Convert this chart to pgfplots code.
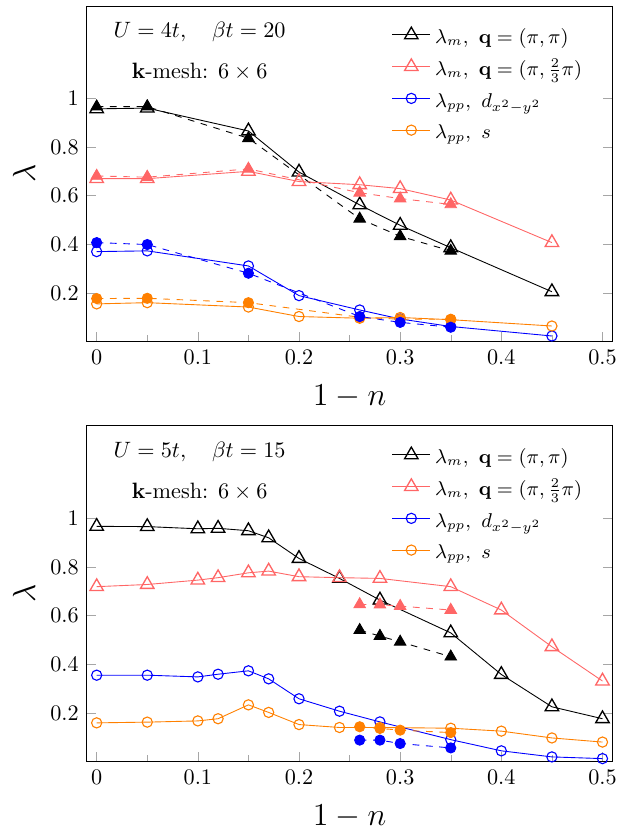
\documentclass[border=0pt]{standalone}
\usepackage{pgfplots}
\pgfplotsset{compat=1.18}
\definecolor{myred}{RGB}{255,102,102}
\definecolor{myorange}{RGB}{255,128,0}
\definecolor{myblue}{RGB}{0,0,255}
\newcommand{\lstrut}{\rule[-3.6pt]{0pt}{12.9pt}}
\pgfplotsset{
  myaxis/.style={
    scale only axis, width=237pt, height=151.2pt,
    xmin=-0.01, xmax=0.51, ymin=0, ymax=1.38,
    xtick={0,0.1,0.2,0.3,0.4,0.5}, minor xtick={0.05,0.15,0.25,0.35,0.45},
    ytick={0.2,0.4,0.6,0.8,1},
    yticklabels={0.2,0.4,0.6,0.8,1},
    xticklabels={0,0.1,0.2,0.3,0.4,0.5},
    xtick pos=bottom,
    tick style={gray!70},
    xlabel={$1-n$}, ylabel={$\lambda$},
    xlabel style={at={(axis description cs:0.5,-0.165)}, anchor=center, font=\Large},
    ylabel style={at={(axis description cs:-0.119,0.5)}, anchor=center, rotate=0, font=\Large},
    legend style={at={(0.567,0.964)}, anchor=north west, draw=none, fill=none, font=\small, row sep=3.5pt, nodes={inner ysep=0pt}},
    legend cell align=left,
  },
  opentri/.style={mark=triangle, mark size=3.5pt, mark options={solid, line width=0.6pt}},
  filltri/.style={dashed, mark=triangle*, mark size=3pt, mark options={solid}},
  opencirc/.style={mark=o, mark size=2.3pt, mark options={solid, line width=0.5pt}},
  fillcirc/.style={dashed, mark=*, mark size=2.3pt, mark options={solid}},
}
\begin{document}
\begin{tikzpicture}
\useasboundingbox (-39pt,-33.1pt) rectangle (245pt,343.1pt);
% ---------------- top ----------------
\begin{axis}[myaxis, at={(0pt,189.2pt)}, anchor=south west]
\addplot[black, opentri] coordinates {(0,0.957)(0.05,0.96)(0.15,0.866)(0.2,0.697)(0.26,0.562)(0.3,0.478)(0.35,0.386)(0.45,0.205)};
\addlegendentry{\lstrut$\lambda_m,\ \mathbf{q}=(\pi,\pi)$}
\addplot[myred, opentri] coordinates {(0,0.670)(0.05,0.670)(0.15,0.700)(0.2,0.658)(0.26,0.645)(0.3,0.629)(0.35,0.582)(0.45,0.407)};
\addlegendentry{\lstrut$\lambda_m,\ \mathbf{q}=(\pi,\frac{2}{3}\pi)$}
\addplot[myblue, opencirc] coordinates {(0,0.370)(0.05,0.373)(0.15,0.311)(0.2,0.189)(0.26,0.130)(0.3,0.093)(0.35,0.062)(0.45,0.023)};
\addlegendentry{\lstrut$\lambda_{pp},\ d_{x^2-y^2}$}
\addplot[myorange, opencirc] coordinates {(0,0.155)(0.05,0.160)(0.15,0.142)(0.2,0.103)(0.26,0.096)(0.3,0.099)(0.35,0.090)(0.45,0.064)};
\addlegendentry{\lstrut$\lambda_{pp},\ s$}
\addplot[black, filltri, forget plot] coordinates {(0,0.966)(0.05,0.966)(0.15,0.836)(0.26,0.505)(0.3,0.433)(0.35,0.373)};
\addplot[myred, filltri, forget plot] coordinates {(0,0.681)(0.05,0.676)(0.15,0.710)(0.26,0.612)(0.3,0.588)(0.35,0.564)};
\addplot[myorange, fillcirc, forget plot] coordinates {(0,0.177)(0.05,0.178)(0.15,0.160)(0.26,0.100)(0.3,0.092)(0.35,0.092)};
\addplot[myblue, fillcirc, forget plot] coordinates {(0,0.407)(0.05,0.399)(0.15,0.281)(0.26,0.103)(0.3,0.079)(0.35,0.059)};
\node at (rel axis cs:0.215,0.922) {$U=4t,\quad \beta t=20$};
\node at (rel axis cs:0.215,0.805) {$\mathbf{k}$-mesh: $6\times 6$};
\end{axis}
% ---------------- bottom ----------------
\begin{axis}[myaxis, at={(0pt,0pt)}, anchor=south west]
\addplot[black, opentri] coordinates {(0,0.967)(0.05,0.966)(0.1,0.957)(0.12,0.959)(0.15,0.949)(0.17,0.920)(0.2,0.835)(0.24,0.753)(0.28,0.664)(0.35,0.529)(0.4,0.358)(0.45,0.225)(0.5,0.176)};
\addlegendentry{\lstrut$\lambda_m,\ \mathbf{q}=(\pi,\pi)$}
\addplot[myred, opentri] coordinates {(0,0.719)(0.05,0.728)(0.1,0.746)(0.12,0.756)(0.15,0.776)(0.17,0.783)(0.2,0.760)(0.24,0.756)(0.28,0.753)(0.35,0.719)(0.4,0.623)(0.45,0.472)(0.5,0.331)};
\addlegendentry{\lstrut$\lambda_m,\ \mathbf{q}=(\pi,\frac{2}{3}\pi)$}
\addplot[myblue, opencirc] coordinates {(0,0.355)(0.05,0.355)(0.1,0.348)(0.12,0.359)(0.15,0.373)(0.17,0.340)(0.2,0.258)(0.24,0.207)(0.28,0.163)(0.35,0.090)(0.4,0.044)(0.45,0.019)(0.5,0.012)};
\addlegendentry{\lstrut$\lambda_{pp},\ d_{x^2-y^2}$}
\addplot[myorange, opencirc] coordinates {(0,0.159)(0.05,0.162)(0.1,0.167)(0.12,0.176)(0.15,0.233)(0.17,0.202)(0.2,0.152)(0.24,0.140)(0.28,0.140)(0.35,0.137)(0.4,0.125)(0.45,0.097)(0.5,0.080)};
\addlegendentry{\lstrut$\lambda_{pp},\ s$}
\addplot[black, filltri, forget plot] coordinates {(0.26,0.540)(0.28,0.516)(0.3,0.492)(0.35,0.431)};
\addplot[myred, filltri, forget plot] coordinates {(0.26,0.646)(0.28,0.645)(0.3,0.639)(0.35,0.623)};
\addplot[myorange, fillcirc, forget plot] coordinates {(0.26,0.143)(0.28,0.136)(0.3,0.129)(0.35,0.119)};
\addplot[myblue, fillcirc, forget plot] coordinates {(0.26,0.088)(0.28,0.088)(0.3,0.074)(0.35,0.056)};
\node at (rel axis cs:0.215,0.922) {$U=5t,\quad \beta t=15$};
\node at (rel axis cs:0.215,0.805) {$\mathbf{k}$-mesh: $6\times 6$};
\end{axis}
\end{tikzpicture}
\end{document}
